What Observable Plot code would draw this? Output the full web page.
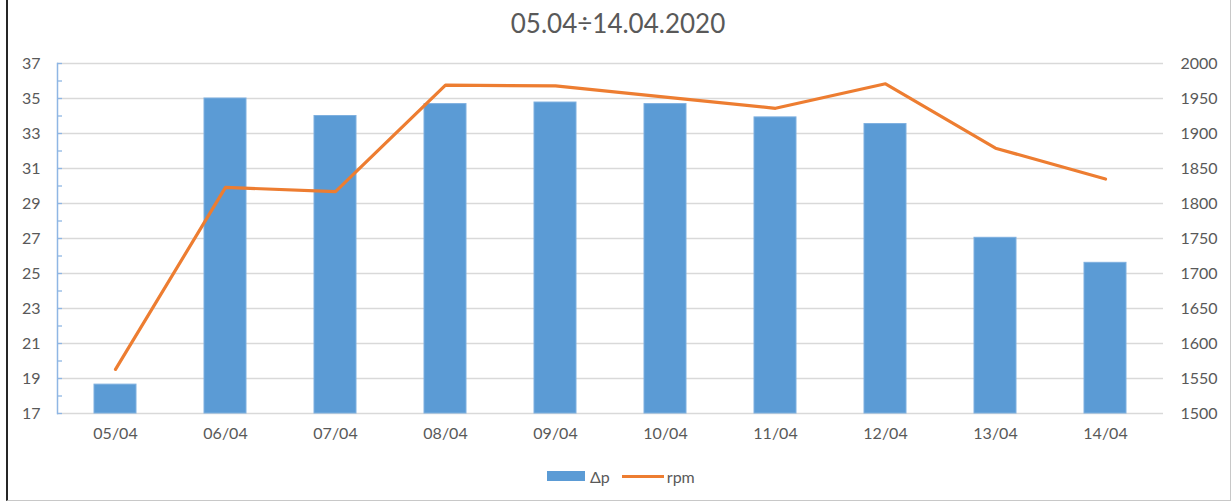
<!DOCTYPE html>
<html>
<head>
<meta charset="utf-8">
<script src="https://cdn.jsdelivr.net/npm/d3@7"></script>
<script src="https://cdn.jsdelivr.net/npm/@observablehq/plot@0.6"></script>
<style>
  html, body { margin: 0; padding: 0; background: #fff; }
  #wrap { position: relative; width: 1232px; height: 504px; font-family: Lato, "Open Sans", sans-serif; color: #595959; }
  #border { position: absolute; left: 6px; top: -2px; width: 1222px; height: 502px;
            border-left: 2px solid #262626; border-right: 1px solid #c8c8c8; border-bottom: 1px solid #c8c8c8; }
  #title { position: relative; height: 46px; line-height: 46px; text-align: center; font-size: 26px; padding-left: 4px; }
  #chart svg { display: block; }
  #legend { position: absolute; left: 547px; top: 462px; height: 28px; display: flex; align-items: center; font-size: 16px; }
  .sw-bar { width: 38px; height: 10px; background: #5b9bd5; margin-right: 5px; }
  .sw-line { width: 42px; height: 3px; background: #ed7d31; margin-left: 12px; margin-right: 3px; }
</style>
</head>
<body>
<div id="wrap">
  <div id="border"></div>
  <div id="title">05.04÷14.04.2020</div>
  <div id="chart"></div>
  <div id="legend"><div class="sw-bar"></div><span>Δp</span><div class="sw-line"></div><span>rpm</span></div>
</div>
<script>
// Daily readings
const days = ["05/04", "06/04", "07/04", "08/04", "09/04", "10/04", "11/04", "12/04", "13/04", "14/04"];
const dp   = [18.65, 35.0, 34.0, 34.68, 34.77, 34.68, 33.92, 33.54, 27.04, 25.61];
const rpm  = [1563, 1823, 1817, 1969, 1968, 1952, 1936, 1971, 1879, 1835];

// Axis ticks
const dpTicks  = [17, 19, 21, 23, 25, 27, 29, 31, 33, 35, 37];
const dpMinor  = d3.range(17, 38, 1);
const rpmTicks = [1500, 1550, 1600, 1650, 1700, 1750, 1800, 1850, 1900, 1950, 2000];

// rpm shares the Δp axis through a linear mapping [1500, 2000] -> [17, 37]
const toDp   = d3.scaleLinear().domain([1500, 2000]).range([17, 37]);
const fromDp = toDp.invert;

const rows = days.map((d, i) => ({day: d, dp: dp[i], rpm: rpm[i], rpmY: toDp(rpm[i])}));

const chart = Plot.plot({
  width: 1232,
  height: 408,
  marginLeft: 57,
  marginRight: 69,
  marginTop: 17,
  marginBottom: 41,
  style: {fontFamily: "Lato, 'Open Sans', sans-serif", fontSize: "16px", color: "#595959", background: "transparent"},
  x: {type: "band", domain: days, paddingInner: 0.62, paddingOuter: 0.31},
  y: {domain: [17, 37]},
  marks: [
    Plot.gridY(dpTicks, {stroke: "#d9d9d9", strokeOpacity: 1, strokeWidth: 1.3}),
    Plot.barY(rows, {x: "day", y1: 17, y2: "dp", fill: "#5b9bd5", stroke: "#7eb0df", strokeWidth: 1}),
    Plot.line(rows, {x: "day", y: "rpmY", stroke: "#ed7d31", strokeWidth: 3.2, strokeLinejoin: "round", strokeLinecap: "round"}),
    Plot.frame({anchor: "left", stroke: "#8fb6e4", strokeWidth: 1.5}),
    Plot.axisY(dpMinor, {anchor: "left", text: null, tickSize: 5, dx: 5, stroke: "#8fb6e4", strokeWidth: 1.3}),
    Plot.axisY(dpTicks, {anchor: "left", tickSize: 0, tickPadding: 17, label: null}),
    Plot.axisY(rpmTicks.map(toDp), {anchor: "right", tickSize: 0, tickPadding: 17, label: null,
      tickFormat: v => String(Math.round(fromDp(v)))}),
    Plot.axisX({tickSize: 0, tickPadding: 14, label: null})
  ]
});
document.getElementById("chart").appendChild(chart);
</script>
</body>
</html>
